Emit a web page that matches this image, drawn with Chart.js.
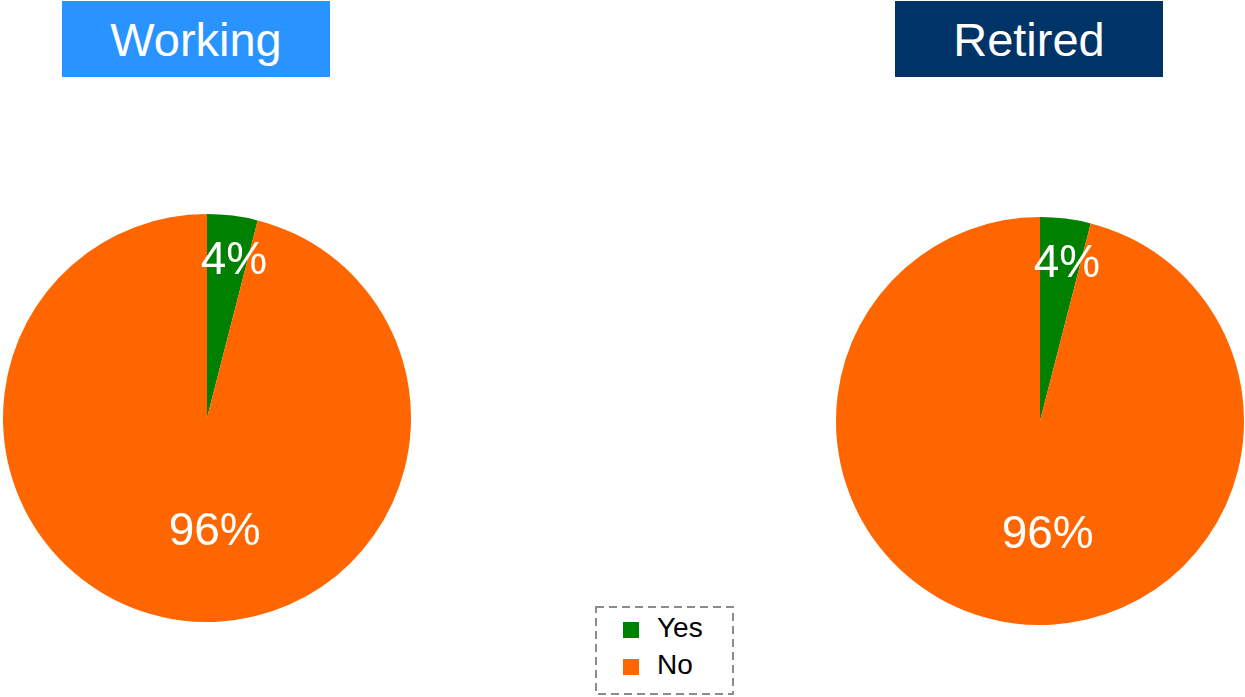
<!DOCTYPE html>
<html>
<head>
<meta charset="utf-8">
<script src="https://cdn.jsdelivr.net/npm/chart.js@4/dist/chart.umd.min.js"></script>
<style>
  body { margin: 0; background: #fff; font-family: "Liberation Sans", Arial, sans-serif; }
  #wrap { position: relative; width: 1245px; height: 697px; overflow: hidden; }
  .title { position: absolute; top: 1px; height: 76px; width: 268px; color: #fff;
           font-size: 47px; line-height: 78px; text-align: center; }
  .pie { position: absolute; width: 408px; height: 408px; }
  #legend { position: absolute; left: 595px; top: 606px; width: 139px; height: 89px; }
  #legend svg { position: absolute; left: 0; top: 0; }
  .item { position: absolute; left: 28px; font-size: 28px; color: #000; height: 30px; line-height: 30px; }
  .item span { display: inline-block; width: 16px; height: 16px; margin-right: 18px; vertical-align: -1px; }
</style>
</head>
<body>
<div id="wrap">
  <div class="title" style="left:62px; background:#2994ff;">Working</div>
  <div class="title" style="left:895px; background:#003366;">Retired</div>
  <div class="pie" style="left:3px; top:214px;"><canvas id="workingChart"></canvas></div>
  <div class="pie" style="left:836px; top:217px;"><canvas id="retiredChart"></canvas></div>
  <div id="legend">
    <svg width="139" height="89"><rect x="1" y="1" width="137" height="87" fill="none"
      stroke="#8c8c8c" stroke-width="2" stroke-dasharray="8 5"/></svg>
  </div>
</div>
<script>
// data
const categories = ['Yes', 'No'];
const workingValues = [4, 96];
const retiredValues = [4, 96];
const sliceColors = ['#008000', '#ff6600'];

// legend (HTML, dashed box)
const legend = document.getElementById('legend');
categories.forEach((c, i) => {
    const d = document.createElement('div');
    d.className = 'item';
    d.style.top = (7 + i * 37) + 'px';
    d.innerHTML = '<span style="background:' + sliceColors[i] + '"></span>' + c;
    legend.appendChild(d);
});

// percent labels inside slices
const labelPlace = [{ f: 0.78, dx: 7 }, { f: 0.56, dx: 22 }];
const pctLabels = {
    id: 'pctLabels',
    afterDatasetsDraw(chart) {
        const c = chart.ctx;
        const ds = chart.data.datasets[0];
        const total = ds.data.reduce((a, b) => a + b, 0);
        c.save();
        c.fillStyle = '#fff';
        c.font = '46px "Liberation Sans", Arial, sans-serif';
        c.textAlign = 'center';
        c.textBaseline = 'middle';
        chart.getDatasetMeta(0).data.forEach((arc, i) => {
            const mid = (arc.startAngle + arc.endAngle) / 2;
            const r = arc.outerRadius * labelPlace[i].f;
            const x = arc.x + Math.cos(mid) * r + labelPlace[i].dx;
            const y = arc.y + Math.sin(mid) * r + 1;
            c.fillText(Math.round(ds.data[i] / total * 100) + '%', x, y);
        });
        c.restore();
    }
};

function makePie(id, values) {
    const ctx = document.getElementById(id).getContext('2d');
    return new Chart(ctx, {
        type: 'pie',
        data: {
            labels: categories,
            datasets: [{
                data: values,
                backgroundColor: sliceColors,
                borderWidth: 0
            }]
        },
        options: {
            responsive: true,
            maintainAspectRatio: false,
            animation: false,
            plugins: {
                legend: { display: false },
                tooltip: { enabled: false }
            }
        },
        plugins: [pctLabels]
    });
}

const workingChart = makePie('workingChart', workingValues);
const retiredChart = makePie('retiredChart', retiredValues);
</script>
</body>
</html>
